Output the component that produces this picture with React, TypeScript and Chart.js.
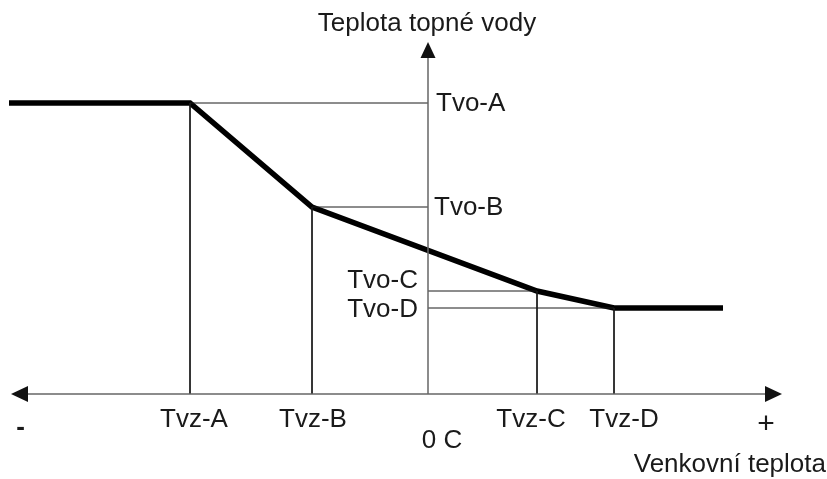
import React, { useEffect, useRef } from "react";
import { Chart, registerables } from "chart.js";
Chart.register(...registerables);

// Breakpoints of the heating curve (schematic units)
const outdoorTemps = [-23.8, -11.6, 10.9, 18.6]; // Tvz-A..D
const waterTemps = [72.75, 46.75, 25.75, 21.5]; // Tvo-A..D
const curveStart = -41.9;
const curveEnd = 29.5;
const xAxisRange = [-41.7, 35.4];
const yAxisTop = 88;
const tvzLabels = ["Tvz-A", "Tvz-B", "Tvz-C", "Tvz-D"];
const tvoLabels = ["Tvo-A", "Tvo-B", "Tvo-C", "Tvo-D"];
const zeroLabel = "0 C";
const minusLabel = "-";
const plusLabel = "+";
const xTitle = "Venkovní teplota";
const yTitle = "Teplota topné vody";

const FONT = "26px 'Liberation Sans', Arial, sans-serif";
const TEXT_COLOR = "#1a1a1a";

function drawText(ctx: CanvasRenderingContext2D, s: string, x: number, y: number, align: CanvasTextAlign, font = FONT) {
  ctx.save();
  ctx.font = font;
  ctx.fillStyle = TEXT_COLOR;
  ctx.textAlign = align;
  ctx.textBaseline = "middle";
  ctx.fillText(s, x, y);
  ctx.restore();
}

const annotationPlugin = {
  id: "schema",
  afterDatasetsDraw(chart: any) {
    const ctx: CanvasRenderingContext2D = chart.ctx;
    const xs = chart.scales.x;
    const ys = chart.scales.y;
    const px = (v: number) => xs.getPixelForValue(v);
    const py = (v: number) => ys.getPixelForValue(v);
    const x0 = px(0);
    const y0 = py(0);

    // arrowheads
    ctx.save();
    ctx.fillStyle = "#111";
    const tri = (pts: number[][]) => {
      ctx.beginPath();
      ctx.moveTo(pts[0][0], pts[0][1]);
      ctx.lineTo(pts[1][0], pts[1][1]);
      ctx.lineTo(pts[2][0], pts[2][1]);
      ctx.closePath();
      ctx.fill();
    };
    const L = px(xAxisRange[0]);
    const R = px(xAxisRange[1]);
    const T = py(yAxisTop);
    tri([[L, y0], [L + 17, y0 - 8], [L + 17, y0 + 8]]);
    tri([[R, y0], [R - 17, y0 - 8], [R - 17, y0 + 8]]);
    tri([[x0, T], [x0 - 7.5, T + 16], [x0 + 7.5, T + 16]]);
    ctx.restore();

    // Tvo labels
    drawText(ctx, tvoLabels[0], x0 + 8, py(waterTemps[0]) + 1, "left");
    drawText(ctx, tvoLabels[1], x0 + 6, py(waterTemps[1]) + 1, "left");
    drawText(ctx, tvoLabels[2], x0 - 10, py(waterTemps[2]) - 10, "right");
    drawText(ctx, tvoLabels[3], x0 - 10, py(waterTemps[3]) + 2, "right");

    // Tvz labels
    const offs = [4, 1, -6, 10];
    tvzLabels.forEach((t, i) => drawText(ctx, t, px(outdoorTemps[i]) + offs[i], y0 + 26, "center"));
    drawText(ctx, zeroLabel, x0 + 14, y0 + 47, "center");
    drawText(ctx, minusLabel, 20.5, y0 + 34, "center", "bold 26px 'Liberation Sans', Arial, sans-serif");
    drawText(ctx, plusLabel, 766, y0 + 31, "center", "30px 'Liberation Sans', Arial, sans-serif");

    drawText(ctx, yTitle, x0 - 1, 24, "center");
    drawText(ctx, xTitle, chart.width - 1, y0 + 71, "right");
  },
};

export default function App() {
  const ref = useRef<HTMLCanvasElement>(null);
  useEffect(() => {
    document.body.style.margin = "0";
    const curve = [
      { x: curveStart, y: waterTemps[0] },
      ...outdoorTemps.map((x, i) => ({ x, y: waterTemps[i] })),
      { x: curveEnd, y: waterTemps[3] },
    ];
    const thin = { borderColor: "#1a1a1a", borderWidth: 1, pointRadius: 0, showLine: true, fill: false } as any;
    const guides: any[] = [];
    outdoorTemps.forEach((x, i) => {
      guides.push({ ...thin, data: [{ x, y: waterTemps[i] }, { x: 0, y: waterTemps[i] }] });
      guides.push({ ...thin, data: [{ x, y: waterTemps[i] }, { x, y: 0 }] });
    });
    const axes = [
      { ...thin, borderColor: "#666", borderWidth: 1.5, data: [{ x: xAxisRange[0] + 1, y: 0 }, { x: xAxisRange[1] - 1, y: 0 }] },
      { ...thin, borderColor: "#666", borderWidth: 1.5, data: [{ x: 0, y: 0 }, { x: 0, y: yAxisTop - 2 }] },
    ];
    const chart = new Chart(ref.current!, {
      type: "scatter",
      data: {
        datasets: [
          ...axes,
          ...guides,
          {
            data: curve,
            showLine: true,
            borderColor: "#000",
            borderWidth: 5.5,
            borderJoinStyle: "miter",
            pointRadius: 0,
            fill: false,
          } as any,
        ],
      },
      options: {
        animation: false,
        responsive: true,
        maintainAspectRatio: false,
        layout: { padding: 0 },
        plugins: { legend: { display: false }, tooltip: { enabled: false } },
        events: [],
        scales: {
          x: { type: "linear", min: -42.8, max: 39.9, display: false },
          y: { type: "linear", min: -21.25, max: 98.5, display: false },
        },
      },
      plugins: [annotationPlugin],
    });
    return () => chart.destroy();
  }, []);
  return (
    <div style={{ width: 827, height: 479, position: "relative", background: "#fff" }}>
      <canvas ref={ref} />
    </div>
  );
}
